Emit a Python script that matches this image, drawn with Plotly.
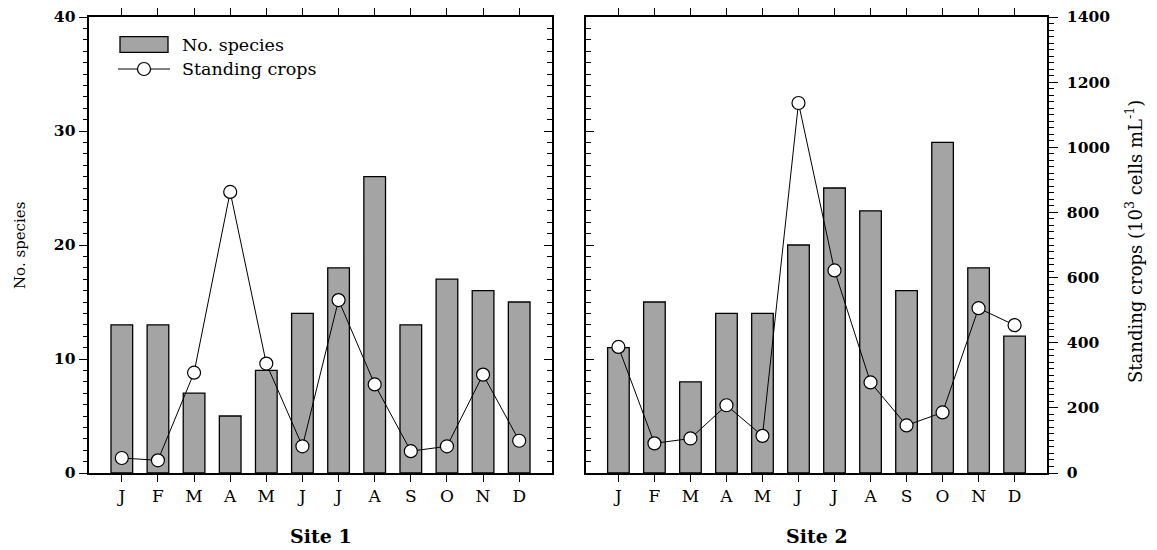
import plotly.graph_objects as go

months = ["J", "F", "M", "A", "M", "J", "J", "A", "S", "O", "N", "D"]
species_site1 = [13, 13, 7, 5, 9, 14, 18, 26, 13, 17, 16, 15]
crops_site1 = [46, 39, 308, 863, 336, 82, 531, 272, 67, 82, 302, 99]
species_site2 = [11, 15, 8, 14, 14, 20, 25, 23, 16, 29, 18, 12]
crops_site2 = [387, 91, 106, 208, 114, 1136, 622, 278, 146, 186, 506, 454]
legend_labels = ["No. species", "Standing crops"]

xpos = list(range(len(months)))
FONT = "DejaVu Serif"
BAR_COLOR = "#a4a4a4"
OFF = 8                          # page body margin of the html page
W, H = 1157, 550
TOP, BOTTOM = 17, 473            # plot area in window pixels
PH = BOTTOM - TOP


def px(x):
    return (x - OFF) / W


def py(y):
    return (BOTTOM - y) / PH


fig = go.Figure()

fig.add_trace(go.Bar(x=xpos, y=species_site1, name=legend_labels[0], width=0.6, showlegend=False,
                     marker=dict(color=BAR_COLOR, line=dict(color="black", width=1.3)),
                     xaxis="x", yaxis="y"))
fig.add_trace(go.Scatter(x=xpos, y=crops_site1, name=legend_labels[1], mode="lines+markers",
                         showlegend=False, line=dict(color="black", width=1),
                         marker=dict(symbol="circle", size=13, color="white",
                                     line=dict(color="black", width=1.2)),
                         xaxis="x", yaxis="y2"))
fig.add_trace(go.Bar(x=xpos, y=species_site2, name=legend_labels[0], width=0.6, showlegend=False,
                     marker=dict(color=BAR_COLOR, line=dict(color="black", width=1.3)),
                     xaxis="x2", yaxis="y4"))
fig.add_trace(go.Scatter(x=xpos, y=crops_site2, name=legend_labels[1], mode="lines+markers",
                         showlegend=False, line=dict(color="black", width=1),
                         marker=dict(symbol="circle", size=13, color="white",
                                     line=dict(color="black", width=1.2)),
                         xaxis="x2", yaxis="y5"))
fig.add_trace(go.Scatter(x=[None], y=[None], xaxis="x", yaxis="y3", showlegend=False,
                         hoverinfo="skip"))

xrange = [-0.9, 11.9]
xcommon = dict(range=xrange, tickmode="array", tickvals=xpos, ticktext=months,
               showline=True, linecolor="black", linewidth=1.5, mirror="ticks",
               ticks="outside", ticklen=7, tickcolor="black", tickwidth=1,
               showgrid=False, zeroline=False, automargin=False,
               tickfont=dict(family=FONT, size=17, color="black"))

minor40_out = dict(dtick=1, ticks="outside", ticklen=5, tickcolor="black", tickwidth=1)
minor40_in = dict(dtick=1, ticks="inside", ticklen=5, tickcolor="black", tickwidth=1)
tickfont_num = dict(family=FONT, size=15.5, color="black", weight="bold")

fig.update_layout(
    width=W, height=H,
    margin=dict(l=0, r=0, t=TOP - OFF, b=(H + OFF) - BOTTOM, autoexpand=False),
    paper_bgcolor="white", plot_bgcolor="white",
    barmode="overlay", showlegend=False,
    font=dict(family=FONT, color="black"),
    xaxis=dict(domain=[px(89.3), px(551.7)], anchor="y", **xcommon),
    xaxis2=dict(domain=[px(586), px(1047)], anchor="y4", **xcommon),
    yaxis=dict(range=[0, 40], dtick=10, anchor="x", side="left",
               showline=True, linecolor="black", linewidth=1.5,
               ticks="outside", ticklen=9, tickcolor="black", tickwidth=1,
               minor=minor40_out, showgrid=False, zeroline=False, automargin=False,
               ticklabeloverflow="allow", tickfont=tickfont_num),
    yaxis2=dict(range=[0, 1400], overlaying="y", anchor="x", visible=False, automargin=False),
    yaxis3=dict(range=[0, 40], dtick=10, overlaying="y", anchor="x", side="right",
                showline=True, linecolor="black", linewidth=1.5,
                ticks="inside", ticklen=8, tickcolor="black", minor=minor40_in,
                showticklabels=False, showgrid=False, zeroline=False, automargin=False),
    yaxis4=dict(range=[0, 40], dtick=10, anchor="x2", side="left",
                showline=True, linecolor="black", linewidth=1.5,
                ticks="inside", ticklen=8, tickcolor="black", minor=minor40_in,
                showticklabels=False, showgrid=False, zeroline=False, automargin=False),
    yaxis5=dict(range=[0, 1400], dtick=200, overlaying="y4", anchor="x2", side="right",
                showline=True, linecolor="black", linewidth=1.5,
                ticks="outside", ticklen=9, tickcolor="black", tickwidth=1,
                minor=dict(dtick=20, ticks="outside", ticklen=5, tickcolor="black"),
                showgrid=False, zeroline=False, automargin=False,
                ticklabeloverflow="allow", ticklabelstandoff=6, tickfont=tickfont_num),
)

# axis titles and panel labels
annots = [
    dict(text="No. species", x=px(20), y=py(246), textangle=-90,
         font=dict(family=FONT, size=15, color="black")),
    dict(text="Standing crops (10<sup>3</sup> cells mL<sup>-1</sup>)", x=px(1134), y=py(242),
         textangle=-90, font=dict(family=FONT, size=18, color="black")),
    dict(text="<b>Site 1</b>", x=px(320.5), y=py(536),
         font=dict(family=FONT, size=19, color="black")),
    dict(text="<b>Site 2</b>", x=px(816.5), y=py(536),
         font=dict(family=FONT, size=19, color="black")),
    dict(text=legend_labels[0], x=px(180), y=py(45), xanchor="left",
         font=dict(family=FONT, size=17.5, color="black")),
    dict(text=legend_labels[1], x=px(180), y=py(69), xanchor="left",
         font=dict(family=FONT, size=17.5, color="black")),
]
for a in annots:
    a.setdefault("xanchor", "center")
    a.update(xref="paper", yref="paper", showarrow=False, yanchor="middle")
    fig.add_annotation(**a)

# legend keys
fig.add_shape(type="rect", xref="paper", yref="paper",
              x0=px(120), x1=px(168), y0=py(52.3), y1=py(36.7),
              fillcolor=BAR_COLOR, line=dict(color="black", width=1.3))
fig.add_shape(type="line", xref="paper", yref="paper",
              x0=px(118), x1=px(170), y0=py(69), y1=py(69),
              line=dict(color="black", width=1))
fig.add_shape(type="circle", xref="paper", yref="paper",
              x0=px(137.5), x1=px(150.5), y0=py(75.5), y1=py(62.5),
              fillcolor="white", line=dict(color="black", width=1.2))

fig.write_html("out.html")
